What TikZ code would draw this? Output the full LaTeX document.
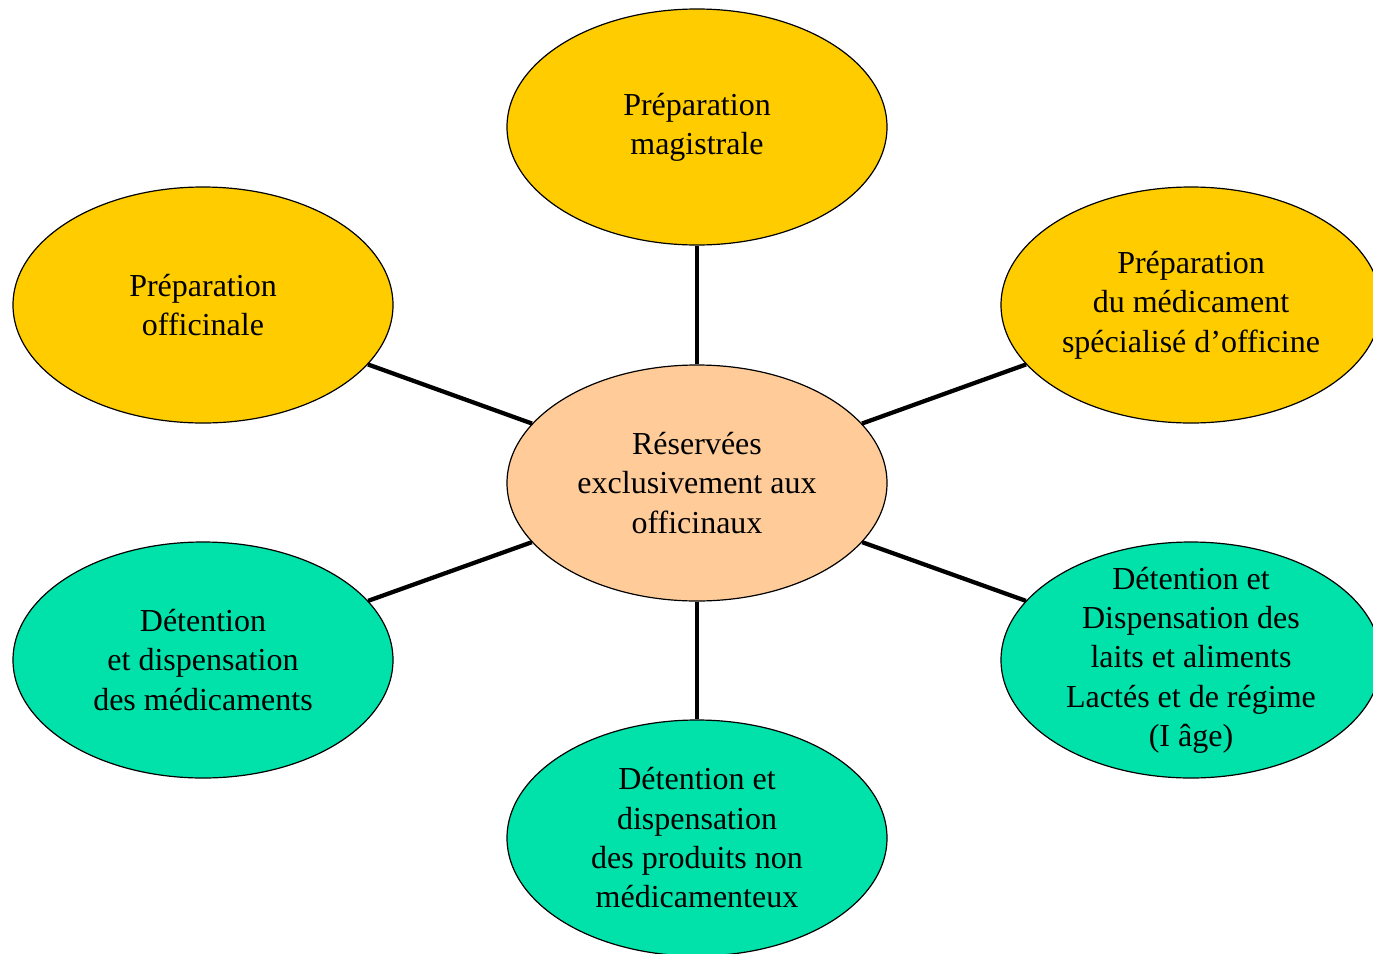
\documentclass[tikz,border=0pt]{standalone}
\usepackage{fontspec}
\setmainfont{Liberation Serif}
\usepackage{xcolor}
\usepackage{tikz}
\usetikzlibrary{shapes.geometric}
\tikzset{
	bulle/.style={ellipse, draw=black, line width=0.9pt, minimum width=285pt, minimum height=177pt, inner sep=0pt, align=center, font=\fontsize{24}{29.5}\selectfont},
	lien/.style={line width=3.2pt},
}
\definecolor{JauneOr}{RGB}{255, 204, 0}
\definecolor{Peche}{RGB}{255, 204, 153}
\definecolor{VertMenthe}{RGB}{0, 226, 170}

\begin{document}
\begin{tikzpicture}[x=0.75pt, y=-0.75pt]
\useasboundingbox (0,0) rectangle (1373,953);
\clip (0,0) rectangle (1373,953);

\node[bulle, fill=Peche] (centre) at (697,483) {R\'eserv\'ees\\exclusivement aux\\officinaux};

\node[bulle, fill=JauneOr] (magistrale) at (697,127) {Pr\'eparation\\magistrale};
\node[bulle, fill=JauneOr] (officinale) at (203,305) {Pr\'eparation\\officinale};
\node[bulle, fill=JauneOr] (specialise) at (1191,305) {Pr\'eparation\\du m\'edicament\\sp\'ecialis\'e d’officine};

\node[bulle, fill=VertMenthe] (medicaments) at (203,660) {D\'etention\\et dispensation\\des m\'edicaments};
\node[bulle, fill=VertMenthe] (produits) at (697,838) {D\'etention et\\dispensation\\des produits non\\m\'edicamenteux};
\node[bulle, fill=VertMenthe, inner ysep=-15pt] (laits) at (1191,660) {D\'etention et\\Dispensation des\\laits et aliments\\Lact\'es et de r\'egime\\(I \^age)};

\draw[lien] (centre) -- (magistrale);
\draw[lien] (centre) -- (officinale);
\draw[lien] (centre) -- (specialise);
\draw[lien] (centre) -- (medicaments);
\draw[lien] (centre) -- (produits);
\draw[lien] (centre) -- (laits);
\end{tikzpicture}
\end{document}
